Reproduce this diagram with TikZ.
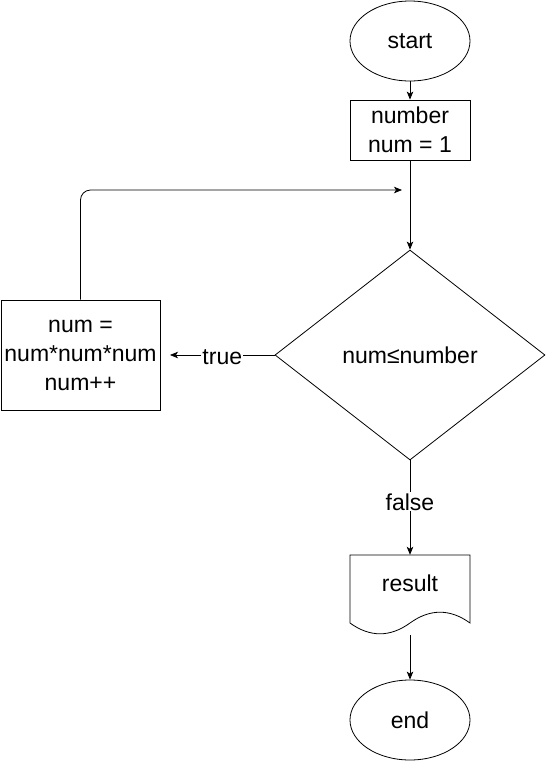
\documentclass[tikz,border=0pt]{standalone}
\usepackage{fontspec}
\setmainfont{Liberation Sans}
\usetikzlibrary{shapes.geometric,arrows.meta}
\begin{document}
\begin{tikzpicture}[x=1pt,y=-1pt,
  font=\fontsize{23}{29}\selectfont,
  every node/.style={align=center},
  term/.style={ellipse,draw,line width=0.8pt,minimum width=120pt,minimum height=80pt,inner sep=0pt},
  procbox/.style={rectangle,draw,line width=0.8pt,inner sep=0pt},
  decis/.style={diamond,draw,line width=0.8pt,aspect=1.2857,minimum width=270pt,minimum height=210pt,inner sep=0pt},
  conn/.style={line width=0.8pt,-{Stealth[length=8pt,width=6.5pt,inset=2pt]}},
  lbl/.style={fill=white,inner sep=1pt}
]
\useasboundingbox (0,0) rectangle (546,761);
\node[term] (start) at (410,41) {start};
\node[procbox,minimum width=120pt,minimum height=60pt] (init) at (410,130) {number\\num = 1};
\node[decis] (cond) at (410,355) {num≤number};
\node[procbox,minimum width=159pt,minimum height=110pt] (body) at (80.5,355) {num =\\num*num*num\\num++};
\node[minimum width=120pt,minimum height=80pt,inner sep=0pt] (res) at (410,595) {};
\node at (410,583) {result};
\draw[line width=0.8pt] (350,555) -- (470,555) -- (470,623)
  .. controls (450,608.6) and (430,608.6) .. (410,623)
  .. controls (390,637.4) and (370,637.4) .. (350,623) -- cycle;
\node[term] (end) at (410,720) {end};
\coordinate (loopin) at (402,190);
\coordinate (bodyin) at (170,355);
\draw[conn] (start) -- (init);
\draw[conn] (init) -- (cond);
\draw[conn] (cond.west) -- node[lbl,pos=0.5,yshift=-2pt] {true} (bodyin);
\draw[conn,rounded corners=10pt] (body.north) |- (loopin);
\draw[conn] (cond.south) -- node[lbl,pos=0.44] {false} (res.north);
\draw[conn] (res.south) -- (end);
\end{tikzpicture}
\end{document}
